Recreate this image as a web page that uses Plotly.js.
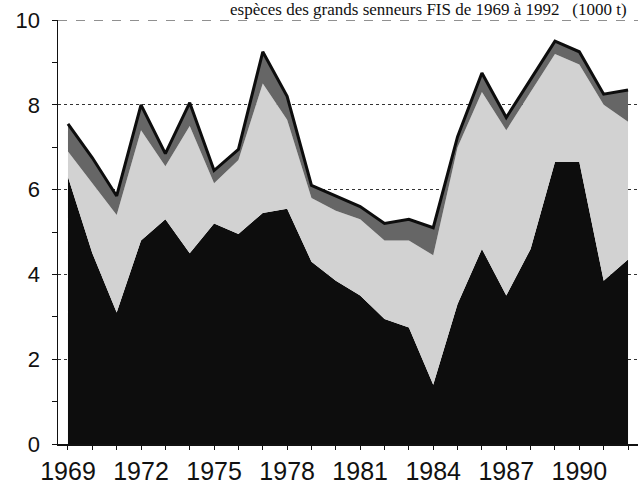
<!DOCTYPE html>
<html>
<head>
<meta charset="utf-8">
<script src="https://cdn.plot.ly/plotly-3.0.1.min.js"></script>
<style>
  html, body { margin: 0; padding: 0; background: #fff; }
  #chart { width: 638px; height: 489px; }
</style>
</head>
<body>
<div id="chart"></div>
<script>
// Years
const years = [1969,1970,1971,1972,1973,1974,1975,1976,1977,1978,1979,1980,
               1981,1982,1983,1984,1985,1986,1987,1988,1989,1990,1991,1992];
// Bottom series (black)
const seriesBlack = [6.3,4.5,3.1,4.8,5.3,4.5,5.2,4.95,5.45,5.55,4.3,3.85,
                     3.5,2.95,2.75,1.4,3.3,4.6,3.5,4.6,6.65,6.65,3.85,4.35];
// Middle series (light speckled)
const seriesLight = [0.6,1.65,2.3,2.6,1.25,3.0,0.95,1.75,3.05,2.1,1.5,1.65,
                     1.8,1.85,2.05,3.05,3.7,3.7,3.9,3.7,2.55,2.3,4.15,3.25];
// Top series (dark band)
const seriesDark = [0.65,0.6,0.45,0.6,0.3,0.55,0.3,0.25,0.75,0.55,0.3,0.35,
                    0.3,0.4,0.5,0.65,0.25,0.45,0.3,0.3,0.3,0.3,0.25,0.75];
// Axis labels
const yTickVals = [0,2,4,6,8,10];
const xTickVals = [1969,1972,1975,1978,1981,1984,1987,1990];
const xTickText = xTickVals.map(String);
const titleText = "espèces des grands senneurs FIS de 1969 à 1992   (1000 t)";

const traces = [
  { x: years, y: seriesBlack, type: 'scatter', mode: 'lines', stackgroup: 'a',
    line: { width: 0, color: '#0d0d0d' }, fillcolor: '#0d0d0d', hoverinfo: 'skip' },
  { x: years, y: seriesLight, type: 'scatter', mode: 'lines', stackgroup: 'a',
    line: { width: 0, color: '#d2d2d2' }, fillcolor: '#d2d2d2', hoverinfo: 'skip' },
  { x: years, y: seriesDark, type: 'scatter', mode: 'lines', stackgroup: 'a',
    line: { width: 3, color: '#0d0d0d' }, fillcolor: '#666666', hoverinfo: 'skip' }
];

const layout = {
  width: 638, height: 489,
  margin: { l: 58, r: 0, t: 20, b: 45 },
  paper_bgcolor: '#ffffff', plot_bgcolor: '#ffffff',
  showlegend: false,
  font: { family: 'Liberation Sans, Arial, sans-serif', color: '#111' },
  xaxis: {
    range: [1968.59, 1992.41],
    tickmode: 'array', tickvals: xTickVals, ticktext: xTickText,
    ticks: 'outside', ticklen: 4, tickwidth: 1, tickcolor: '#111',
    minor: { dtick: 1, tick0: 1969, ticks: 'outside', ticklen: 4, tickcolor: '#111', showgrid: false },
    showline: true, linecolor: '#111', linewidth: 1.5,
    showgrid: false, zeroline: false,
    tickfont: { size: 25, family: 'Liberation Sans, Arial, sans-serif', color: '#111' },
    ticklabelstandoff: 0
  },
  yaxis: {
    range: [0, 10],
    tickmode: 'array', tickvals: yTickVals,
    ticks: 'outside', ticklen: 5, tickwidth: 1, tickcolor: '#111',
    minor: { dtick: 1, ticks: 'outside', ticklen: 5, tickcolor: '#111', showgrid: false },
    showline: true, linecolor: '#111', linewidth: 1.5,
    showgrid: true, gridcolor: '#333', griddash: 'dot', gridwidth: 1,
    zeroline: false,
    tickfont: { size: 22, family: 'Liberation Sans, Arial, sans-serif', color: '#111' },
    ticklabelstandoff: 7
  },
  shapes: [
    { type: 'line', xref: 'paper', yref: 'y', x0: 0, x1: 1, y0: 10, y1: 10,
      line: { color: '#222', width: 1.2, dash: 'dash' } }
  ],
  annotations: [
    { text: titleText, xref: 'paper', yref: 'paper', x: 0.293, y: 1.0, yshift: 11,
      xanchor: 'left', yanchor: 'middle', showarrow: false,
      font: { family: 'Liberation Serif, Times New Roman, serif', size: 17, color: '#111' } }
  ]
};

Plotly.newPlot('chart', traces, layout, { staticPlot: true, displayModeBar: false });
</script>
</body>
</html>
